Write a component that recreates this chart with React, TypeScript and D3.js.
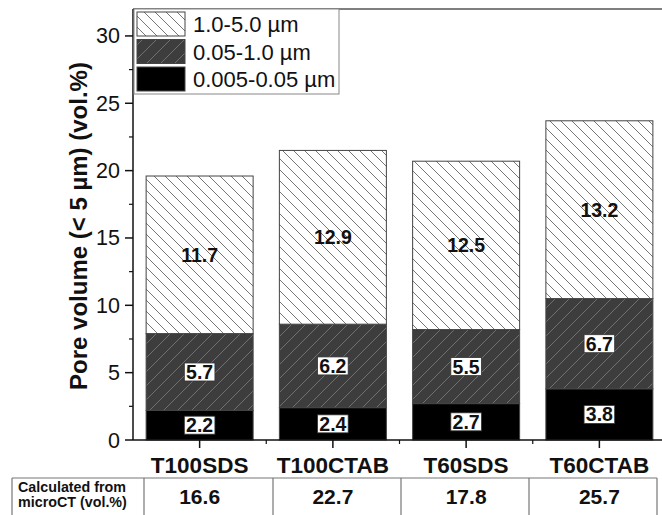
import React from "react";
import * as d3 from "d3";

const categories = ["T100SDS", "T100CTAB", "T60SDS", "T60CTAB"];
const small = [2.2, 2.4, 2.7, 3.8];
const mid = [5.7, 6.2, 5.5, 6.7];
const large = [11.7, 12.9, 12.5, 13.2];
const microCT = ["16.6", "22.7", "17.8", "25.7"];
const legendLabels = ["1.0-5.0 µm", "0.05-1.0 µm", "0.005-0.05 µm"];
const yTicks = [0, 5, 10, 15, 20, 25, 30];
const yMinor = [2.5, 7.5, 12.5, 17.5, 22.5, 27.5];

export default function App() {
  const W = 662, H = 515;
  const left = 133, top = 9, bottom = 440;
  const y = d3.scaleLinear().domain([0, 32]).range([bottom, top]);
  const x = d3.scaleLinear().domain([0.5, 4.5]).range([left, left + 533]);
  const bw = 107;
  const font = "Arial, 'Liberation Sans', sans-serif";

  const series = [
    { vals: small, fill: "#000", box: true },
    { vals: mid, fill: "url(#hatchMid)", box: true },
    { vals: large, fill: "url(#hatchTop)", box: false },
  ];

  const segs: any[] = [];
  categories.forEach((c, i) => {
    let base = 0;
    series.forEach((s, si) => {
      const v = s.vals[i];
      segs.push({ i, si, y0: base, y1: base + v, v, s });
      base += v;
    });
  });

  const tableLeft = 12, tableTop = 478;
  const colEdges = [144, 273, 401, 529, 657];

  return (
    <svg width={W} height={H} style={{ position: "absolute", left: 0, top: 0, fontFamily: font }}>
      <defs>
        <pattern id="hatchTop" patternUnits="userSpaceOnUse" width="11" height="11">
          <rect width="11" height="11" fill="#fff" />
          <path d="M-1,-1 L12,12 M-6.5,4.5 L0.5,11.5 M10.5,-0.5 L17.5,6.5" stroke="#777" strokeWidth="1" />
        </pattern>
        <pattern id="hatchMid" patternUnits="userSpaceOnUse" width="14" height="14">
          <rect width="14" height="14" fill="#3d3d3d" />
          <path d="M-1,15 L15,-1 M-8,8 L8,-8 M6,22 L22,6" stroke="#707070" strokeWidth="1" />
        </pattern>
      </defs>
      <rect width={W} height={H} fill="#fff" />

      {segs.map((d, k) => (
        <rect key={k} x={x(d.i + 1) - bw / 2} y={y(d.y1)} width={bw} height={y(d.y0) - y(d.y1)}
          fill={d.s.fill} stroke="#444" strokeWidth={1} />
      ))}

      {segs.map((d, k) => {
        const cx = x(d.i + 1);
        const cy = y((d.y0 + d.y1) / 2);
        const txt = d.v.toFixed(1);
        const tw = txt.length * 9.2;
        return (
          <g key={"l" + k}>
            {d.s.box && (
              <rect x={cx - tw / 2 - 1.5} y={cy - 9} width={tw + 3} height={18} fill="#fff" stroke="#333" strokeWidth={0.8} />
            )}
            <text x={cx} y={cy + 7} textAnchor="middle" fontSize={19.5} fontWeight="bold" fill="#111">{txt}</text>
          </g>
        );
      })}

      <line x1={left} x2={W} y1={top} y2={top} stroke="#555" strokeWidth={1.5} />
      <line x1={left} x2={left} y1={top} y2={bottom} stroke="#111" strokeWidth={1.5} />
      <line x1={left} x2={W} y1={bottom} y2={bottom} stroke="#111" strokeWidth={1.5} />
      {yTicks.map((t) => (
        <g key={t}>
          <line x1={left - 8} x2={left} y1={y(t)} y2={y(t)} stroke="#111" strokeWidth={1.5} />
          <text x={left - 13} y={y(t) + 7.5} textAnchor="end" fontSize={21.5} fill="#111">{t}</text>
        </g>
      ))}
      {yMinor.map((t) => (
        <line key={t} x1={left - 4} x2={left} y1={y(t)} y2={y(t)} stroke="#111" strokeWidth={1.2} />
      ))}
      {categories.map((c, i) => (
        <g key={c}>
          <line x1={x(i + 1)} x2={x(i + 1)} y1={bottom} y2={bottom + 8} stroke="#111" strokeWidth={1.5} />
          <text x={x(i + 1)} y={bottom + 33} textAnchor="middle" fontSize={22.5} fontWeight="bold" fill="#111">{c}</text>
        </g>
      ))}
      {[1.5, 2.5, 3.5].map((t) => (
        <line key={t} x1={x(t)} x2={x(t)} y1={bottom} y2={bottom + 4} stroke="#111" strokeWidth={1.2} />
      ))}
      <text transform={`translate(87,${226}) rotate(-90)`} textAnchor="middle" fontSize={24} fontWeight="bold" fill="#111">
        Pore volume (&lt; 5 µm) (vol.%)
      </text>

      <rect x={134} y={top} width={205} height={85} fill="#fff" stroke="#888" strokeWidth={1} />
      {["url(#hatchTop)", "url(#hatchMid)", "#000"].map((f, i) => (
        <g key={i}>
          <rect x={137} y={12 + i * 27.5} width={48} height={24} fill={f} stroke="#444" strokeWidth={1} />
          <text x={193} y={32 + i * 27.5} fontSize={22} fill="#111">{legendLabels[i]}</text>
        </g>
      ))}

      <line x1={tableLeft} x2={colEdges[4]} y1={tableTop} y2={tableTop} stroke="#777" strokeWidth={1.2} />
      <line x1={tableLeft} x2={tableLeft} y1={tableTop} y2={H} stroke="#777" strokeWidth={1.2} />
      {colEdges.map((e) => (
        <line key={e} x1={e} x2={e} y1={tableTop} y2={H} stroke="#777" strokeWidth={1.2} />
      ))}
      <text x={18} y={492} fontSize={14.3} fontWeight="bold" fill="#111">Calculated from</text>
      <text x={18} y={507} fontSize={14.3} fontWeight="bold" fill="#111">microCT (vol.%)</text>
      {microCT.map((v, i) => (
        <text key={i} x={x(i + 1)} y={504} textAnchor="middle" fontSize={21} fontWeight="bold" fill="#111">{v}</text>
      ))}
    </svg>
  );
}
